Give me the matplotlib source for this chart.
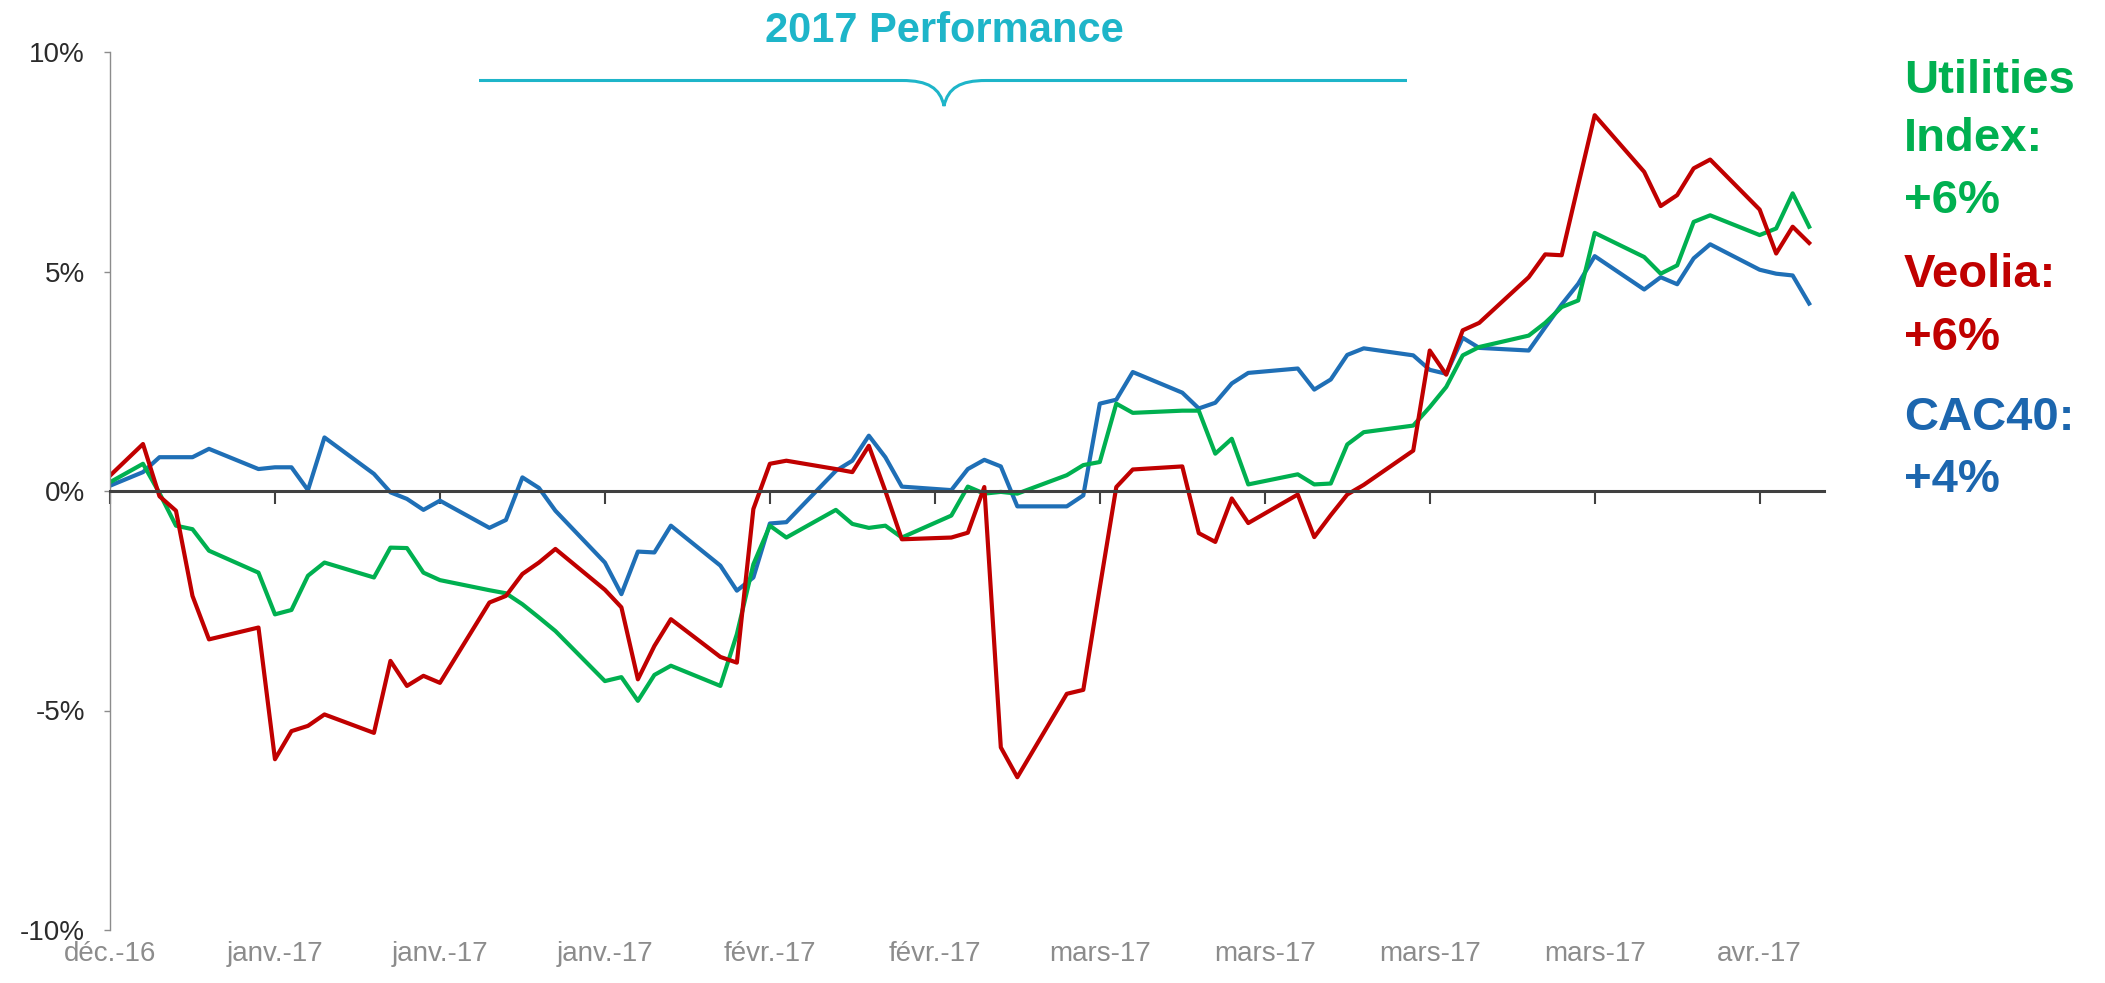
import pandas as pd
import matplotlib.pyplot as plt
from matplotlib.path import Path
from matplotlib.patches import PathPatch

plt.rcParams['font.family'] = ['Liberation Sans', 'DejaVu Sans']

# base point 31/12/2016, then every trading day up to 13/04/2017
dates = pd.DatetimeIndex(['2016-12-31']).append(pd.bdate_range('2017-01-02', '2017-04-13'))
days = (dates - dates[0]).days

utilities = [0.20, 0.62, -0.05, -0.79, -0.87, -1.36, -1.86, -2.81, -2.71, -1.93, -1.63,
             -1.97, -1.29, -1.30, -1.86, -2.03, -2.26, -2.33, -2.58, -2.88, -3.19,
             -4.33, -4.24, -4.78, -4.19, -3.98, -4.44, -3.26, -1.67, -0.79, -1.06,
             -0.43, -0.75, -0.84, -0.79, -1.06, -0.56, 0.10, -0.06, -0.02, -0.06,
             0.36, 0.59, 0.66, 1.99, 1.78, 1.83, 1.83, 0.85, 1.19, 0.15,
             0.38, 0.15, 0.17, 1.06, 1.34, 1.49, 1.91, 2.37, 3.09, 3.28,
             3.54, 3.83, 4.19, 4.34, 5.88, 5.33, 4.95, 5.14, 6.13, 6.28,
             5.83, 5.98, 6.78, 6.02]

veolia = [0.35, 1.07, -0.12, -0.45, -2.39, -3.38, -3.11, -6.11, -5.47, -5.35, -5.09,
          -5.51, -3.87, -4.44, -4.21, -4.37, -2.54, -2.39, -1.89, -1.63, -1.32,
          -2.25, -2.65, -4.29, -3.53, -2.92, -3.78, -3.91, -0.41, 0.62, 0.69,
          0.50, 0.43, 1.03, 0.00, -1.10, -1.06, -0.95, 0.09, -5.84, -6.52,
          -4.62, -4.53, -2.20, 0.09, 0.49, 0.56, -0.96, -1.16, -0.17, -0.73,
          -0.08, -1.05, -0.55, -0.08, 0.14, 0.92, 3.20, 2.65, 3.66, 3.83,
          4.87, 5.39, 5.37, 6.97, 8.56, 7.27, 6.49, 6.74, 7.35, 7.55,
          6.41, 5.41, 6.02, 5.65]

cac40 = [0.12, 0.43, 0.77, 0.77, 0.77, 0.96, 0.50, 0.54, 0.54, 0.02, 1.22,
         0.39, -0.03, -0.18, -0.43, -0.22, -0.84, -0.66, 0.31, 0.07, -0.45,
         -1.63, -2.35, -1.38, -1.40, -0.79, -1.70, -2.27, -1.97, -0.74, -0.71,
         0.46, 0.69, 1.26, 0.77, 0.10, 0.02, 0.50, 0.71, 0.56, -0.35,
         -0.35, -0.10, 1.99, 2.08, 2.71, 2.24, 1.88, 2.01, 2.45, 2.69,
         2.79, 2.31, 2.54, 3.10, 3.25, 3.09, 2.76, 2.67, 3.49, 3.26,
         3.20, 3.73, 4.25, 4.72, 5.35, 4.59, 4.87, 4.71, 5.30, 5.62,
         5.04, 4.95, 4.91, 4.27]

tick_days = list(range(0, 101, 10))
tick_labels = ['déc.-16', 'janv.-17', 'janv.-17', 'janv.-17', 'févr.-17', 'févr.-17',
               'mars-17', 'mars-17', 'mars-17', 'mars-17', 'avr.-17']
y_ticks = [-10, -5, 0, 5, 10]
y_labels = ['-10%', '-5%', '0%', '5%', '10%']

GREEN = '#00b050'
RED = '#c00000'
BLUE = '#1f6fb6'
BLUE_TXT = '#1c66ae'
TEAL = '#1eb5c9'

W, H = 2105, 983
fig = plt.figure(figsize=(W / 100, H / 100), dpi=100)
ax = fig.add_axes([110 / W, 1 - 930 / H, (1824 - 110) / W, (930 - 52) / H])

ax.plot(days, cac40, color=BLUE, lw=3)
ax.plot(days, utilities, color=GREEN, lw=3)
ax.plot(days, veolia, color=RED, lw=3)

ax.set_xlim(0, 103.9)
ax.set_ylim(-10, 10)

# axes styling
for s in ['top', 'right']:
    ax.spines[s].set_visible(False)
ax.spines['left'].set_color('#8c8c8c')
ax.spines['left'].set_linewidth(1)
ax.spines['bottom'].set_position(('data', 0))
ax.spines['bottom'].set_color('#404040')
ax.spines['bottom'].set_linewidth(2.2)

ax.set_yticks(y_ticks, labels=y_labels)
ax.tick_params(axis='y', direction='out', length=4, width=1, color='#8c8c8c',
               pad=14, labelsize=20, labelcolor='#2b2b2b')
ax.set_xticks(tick_days)
ax.tick_params(axis='x', direction='out', length=9, width=1.5, color='#404040',
               labelbottom=False)

# month labels sit at the bottom of the plot
sec = ax.secondary_xaxis(0.0)
sec.spines['bottom'].set_visible(False)
sec.set_xticks(tick_days, labels=tick_labels)
sec.tick_params(length=0, pad=8, labelsize=20, labelcolor='#8c8c8c')

def fx(px, py):
    return (px / W, 1 - py / H)

# title and brace
fig.text(*fx(944, 42), '2017 Performance', ha='center', va='baseline',
         fontsize=30, fontweight='bold', color=TEAL)
verts = [fx(479, 80.5), fx(902, 80.5), fx(928, 80.5), fx(940, 88), fx(944, 106),
         fx(948, 88), fx(960, 80.5), fx(986, 80.5), fx(1407, 80.5)]
codes = [Path.MOVETO, Path.LINETO, Path.CURVE4, Path.CURVE4, Path.CURVE4,
         Path.CURVE4, Path.CURVE4, Path.CURVE4, Path.LINETO]
fig.add_artist(PathPatch(Path(verts, codes), transform=fig.transFigure,
                         fill=False, edgecolor=TEAL, lw=2.2))

# labels on the right
side = [('Utilities', 93, GREEN), ('Index:', 151, GREEN), ('+6%', 213, GREEN),
        ('Veolia:', 287, RED), ('+6%', 350, RED),
        ('CAC40:', 430, BLUE_TXT), ('+4%', 492, BLUE_TXT)]
for txt, yb, col in side:
    fig.text(*fx(1904, yb), txt, ha='left', va='baseline', fontsize=34,
             fontweight='bold', color=col)

fig.savefig('out.png', dpi=100)
